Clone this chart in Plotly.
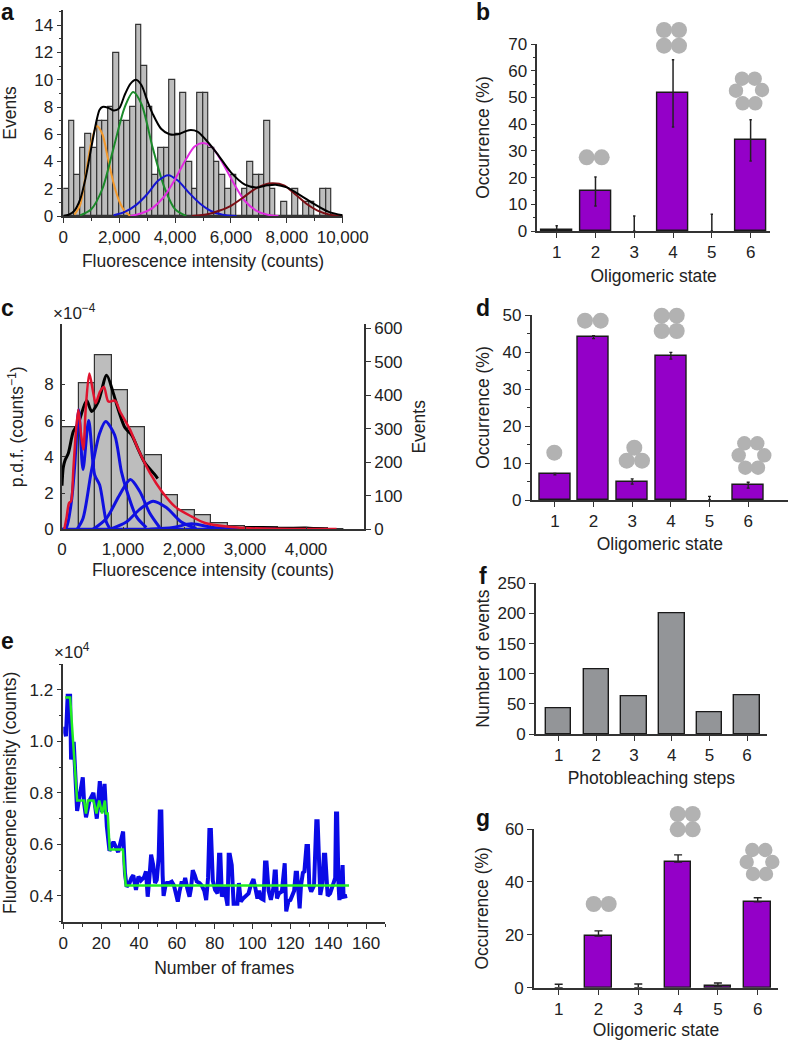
import plotly.graph_objects as go

W, H = 788, 1040
FONT = "Liberation Sans"
TXT = "#222222"
AX = "#333333"
PURPLE = "#9400C8"
GREY = "#BDBDBD"
ICON = "#B2B2B2"
TICK_SIZE = 17
TITLE_SIZE = 17.5

# ---------- panel a ----------
a_bins = [100 + 200 * i for i in range(50)]
a_counts = [2, 7, 3, 5, 6, 5, 7, 7, 8, 12, 7, 7, 8, 14, 11, 8, 3, 5, 5, 10, 6, 9, 4, 2, 9,
            9, 5, 4, 3, 2, 3, 0, 2, 4, 3, 3, 7, 2, 0, 1, 0, 2, 0, 1, 1, 0, 2, 2, 0, 0]
a_orange_x = [400, 600, 800, 1000, 1200, 1400, 1600, 1800, 2000, 2200, 2400]
a_orange_y = [0.1, 0.8, 3, 5.4, 6.6, 6.0, 4.2, 2.4, 1.1, 0.35, 0]
a_green_x = [600, 1000, 1400, 1800, 2200, 2500, 2800, 3200, 3600, 4000, 4400]
a_green_y = [0.05, 0.5, 2.0, 5, 8, 9.1, 8.2, 5, 2.2, 0.5, 0]
a_blue_x = [1800, 2200, 2600, 3000, 3400, 3760, 4100, 4500, 4900, 5300, 5700, 6200]
a_blue_y = [0.05, 0.3, 0.8, 1.6, 2.6, 3.0, 2.6, 1.7, 0.9, 0.35, 0.1, 0]
a_mag_x = [2400, 2800, 3200, 3600, 4000, 4400, 4700, 5000, 5300, 5700, 6100, 6500, 6900, 7300, 7700]
a_mag_y = [0, 0.2, 0.6, 1.4, 2.7, 4.2, 5.1, 5.35, 5.1, 3.9, 2.4, 1.1, 0.4, 0.1, 0]
a_red_x = [4600, 5200, 5600, 6000, 6400, 6800, 7200, 7500, 7900, 8300, 8700, 9100, 9500, 10000]
a_red_y = [0, 0.15, 0.4, 0.75, 1.3, 1.9, 2.3, 2.4, 2.25, 1.6, 0.9, 0.4, 0.12, 0]
a_black_x = [0, 200, 400, 600, 800, 1000, 1200, 1300, 1400, 1600, 1800, 2000, 2200, 2400, 2600, 2800,
             3000, 3200, 3500, 3800, 4100, 4500, 4800, 5100, 5500, 6000, 6500, 6900, 7300, 7600, 8000,
             8500, 9000, 9500, 10000]
a_black_y = [0, 0.1, 0.4, 1.2, 2.8, 5, 7.1, 7.8, 8, 7.95, 7.75, 7.9, 8.9, 9.7, 10, 9.6,
             8.5, 7.5, 6.4, 6.0, 6.0, 6.3, 6.2, 5.6, 4.6, 3.2, 2.3, 2.1, 2.25, 2.3, 2.1,
             1.5, 0.85, 0.3, 0.05]

# ---------- panel c ----------
c_bins = [136 + 272 * i for i in range(17)]
c_events = [304, 436, 520, 415, 304, 221, 102, 56, 43, 18, 8, 6, 6, 4, 4, 3, 1]
c_black_x = [0, 20, 49, 104, 186, 268, 404, 486, 596, 732, 842, 923, 1033, 1142, 1251, 1361, 1525, 1568]
c_black_y = [2.4, 3.4, 3.8, 4.2, 5.4, 5.85, 7.1, 6.5, 7.05, 8.5, 7.5, 6.6, 5.6, 5.2, 4.4, 3.65, 3.0, 2.8]
c_tail_x = [3000, 3300, 3600, 4000, 4300]
c_tail_y = [0.12, 0.13, 0.08, 0.1, 0.03]
c_red_x = [38, 77, 115, 148, 186, 224, 268, 311, 350, 388, 448, 514, 552, 623, 688, 760, 869, 951,
           1115, 1251, 1443, 1634, 1852, 2126, 2344, 2700, 3000, 3500, 4000, 4500]
c_red_y = [0, 0.7, 1.45, 1.55, 3.3, 5.2, 6.6, 5.3, 4.4, 6.6, 8.6, 7.5, 6.95, 7.6, 7.85, 7.05, 7.1, 6.5,
           5.5, 4.4, 3.1, 2.1, 1.25, 0.7, 0.35, 0.15, 0.07, 0.03, 0.02, 0.01]
c_b1_x = [16, 71, 153, 208, 273, 344, 437, 536, 617, 727, 781]
c_b1_y = [0, 0.1, 1.5, 3.5, 6.6, 3.3, 6.0, 3.0, 2.45, 0.4, 0.05]
c_b2_x = [246, 344, 481, 617, 716, 863, 973, 1055, 1219, 1383]
c_b2_y = [0, 0.6, 3.2, 5.3, 5.95, 5.2, 3.2, 2.2, 0.7, 0.1]
c_b3_x = [508, 727, 945, 1120, 1273, 1437, 1601]
c_b3_y = [0, 0.6, 1.9, 2.75, 2.1, 0.9, 0.1]
c_b4_x = [781, 1055, 1273, 1492, 1710, 1956, 2202]
c_b4_y = [0, 0.4, 1.1, 1.55, 1.2, 0.4, 0.05]
c_b5_x = [1437, 1820, 2120, 2475, 2803]
c_b5_y = [0, 0.1, 0.3, 0.1, 0]
c_b0_x = [0, 3500]
c_b0_y = [0, 0]

# ---------- panel e ----------
e_x = [0, 1.4, 2.3, 3.6, 4.1, 5.5, 7.3, 8.3, 9.3, 10.3, 11, 12, 13.8, 15.9, 17.7, 19.3, 20.4, 21.8, 23, 24.4,
       26.5, 27.5, 29, 31.6, 32.6, 33.5, 35, 36, 37, 38.4, 39.7, 41, 42.7, 43.7, 44.6, 45.5, 46.4, 47.5, 48.5,
       49.4, 50.4, 51, 51.8, 52.5, 53, 54, 54.7, 56, 57.3, 58.5, 59.5, 60.5, 61.5, 62.6, 63.5, 64.4, 65.5, 66.7,
       67.5, 68.4, 69.5, 70.5, 72, 73.2, 74.5, 75.5, 76.5, 77.2, 78, 79, 80.2, 81.5, 82.3, 83, 83.8, 85, 86.8,
       87.4, 88, 89, 90, 92, 92.8, 93.8, 95, 96.5, 97.9, 99, 100.5, 101.5, 102.6, 103.5, 104.5, 105.8, 106.6,
       107.4, 108.5, 109.7, 111, 111.7, 112.3, 112.9, 114, 115.5, 116.5, 117, 117.8, 119, 120, 122, 122.8, 123.5,
       124.9, 125.6, 126.6, 127.4, 128.5, 129.3, 130, 131, 132.5, 133.7, 134.4, 135.2, 135.8, 137, 137.7, 138.4,
       139.3, 139.7, 141, 142.9, 143.7, 144.1, 144.7, 145.4, 145.9, 146.7, 147.1, 147.6, 148.1, 150]
e_y = [1.057, 1.02, 1.177, 1.177, 0.93, 0.998, 0.73, 0.78, 0.82, 0.86, 0.76, 0.705, 0.77, 0.80, 0.70, 0.845,
       0.725, 0.835, 0.67, 0.575, 0.61, 0.59, 0.57, 0.65, 0.488, 0.436, 0.45, 0.47, 0.48, 0.423, 0.475, 0.46,
       0.473, 0.495, 0.397, 0.47, 0.56, 0.52, 0.45, 0.462, 0.55, 0.728, 0.728, 0.48, 0.40, 0.44, 0.45, 0.45,
       0.455, 0.44, 0.40, 0.378, 0.42, 0.456, 0.44, 0.47, 0.43, 0.397, 0.43, 0.50, 0.48, 0.456, 0.45, 0.44,
       0.42, 0.384, 0.47, 0.656, 0.656, 0.46, 0.423, 0.41, 0.56, 0.56, 0.397, 0.436, 0.362, 0.56, 0.56, 0.52,
       0.37, 0.37, 0.45, 0.378, 0.39, 0.40, 0.41, 0.44, 0.465, 0.43, 0.39, 0.42, 0.39, 0.385, 0.53, 0.53, 0.42,
       0.385, 0.43, 0.495, 0.495, 0.39, 0.41, 0.417, 0.527, 0.527, 0.34, 0.38, 0.384, 0.42, 0.49, 0.49, 0.352,
       0.44, 0.49, 0.495, 0.594, 0.594, 0.44, 0.417, 0.44, 0.69, 0.69, 0.43, 0.404, 0.45, 0.56, 0.56, 0.42, 0.40,
       0.41, 0.462, 0.47, 0.72, 0.72, 0.45, 0.384, 0.42, 0.52, 0.52, 0.397, 0.40]
e_fit_x = [1, 3.6, 7.3, 11, 12, 13, 16, 17.5, 19, 20.5, 22, 22.5, 23.5, 24.5, 31.5, 33, 151]
e_fit_y = [1.17, 1.17, 0.77, 0.77, 0.72, 0.77, 0.77, 0.72, 0.77, 0.72, 0.77, 0.72, 0.72, 0.58, 0.58, 0.44, 0.44]

# ---------- bar panels ----------
states = [1, 2, 3, 4, 5, 6]
b_vals = [0.3, 15, 0, 51.5, 0, 34]
b_err_up = [1.7, 5.2, 5.6, 12.6, 6.3, 7.6]
b_err_dn = [0.3, 5.6, 0, 12.6, 0, 7.8]
d_vals = [7, 44, 5, 39, 0, 4]
d_err_up = [0.2, 0.4, 0.7, 0.9, 1.0, 0.8]
d_err_dn = [0.2, 0.4, 0.7, 0.9, 0, 0.8]
f_vals = [42, 107, 63, 200, 36, 65]
g_vals = [0, 19.5, 0, 47.5, 0.6, 32.5]
g_err_up = [1.3, 2, 1.4, 2.7, 1.2, 1.5]
g_err_dn = [0, 0, 0, 0, 0, 0]

# icons: circle radius and centres in page pixels
ICONS = [
    (8.0, [(586.7, 157.3), (601.7, 157.3)]),
    (8.0, [(664, 30), (679, 30), (664, 45.7), (679, 45.7)]),
    (7.2, [(742, 78.7), (754.7, 78.7), (762, 90), (755.3, 103.3), (742.7, 103.3), (736, 90.7)]),
    (8.0, [(554.3, 452.7)]),
    (8.0, [(585, 320.7), (600.7, 320.7)]),
    (8.0, [(634.3, 447.7), (626.7, 460.7), (642, 460.7)]),
    (8.0, [(661.7, 315.7), (676.7, 315.7), (661.7, 331), (676.7, 331)]),
    (7.2, [(744.3, 443.3), (757.3, 443.3), (764.3, 455.3), (758, 467.7), (745.3, 467.7), (738.7, 455.3)]),
    (8.0, [(593.7, 904), (608.7, 904)]),
    (8.0, [(677.7, 814), (692.7, 814), (677.7, 829.3), (692.7, 829.3)]),
    (7.2, [(752.3, 850), (765.3, 850), (772.3, 862), (766, 874), (753, 874), (746.7, 862)]),
]
PANEL_LABELS = [("a", 7, 12), ("b", 483, 12.5), ("c", 8, 308), ("d", 483, 308), ("e", 8, 641),
                ("f", 483, 576), ("g", 483, 818)]


def px(x):
    return x / W


def py(y):
    return 1 - y / H


fig = go.Figure()
layout = dict(
    width=W, height=H, autosize=False, margin=dict(l=0, r=0, t=0, b=0),
    paper_bgcolor="white", plot_bgcolor="white", showlegend=False,
    font=dict(family=FONT, size=TICK_SIZE, color=TXT), bargap=0,
)


def axis(domain, rng, title=None, standoff=6, dtick=None, tick0=0, minor=None, ticks="outside",
         ticklen=5, fmt=None, **kw):
    d = dict(domain=domain, range=rng, showgrid=False, zeroline=False, showline=True,
             linecolor=AX, linewidth=1.6, ticks=ticks, ticklen=ticklen, tickwidth=1.4, tickcolor=AX,
             tickfont=dict(family=FONT, size=TICK_SIZE, color=TXT), automargin=False, tick0=tick0)
    if dtick is not None:
        d["dtick"] = dtick
    if fmt:
        d["tickformat"] = fmt
    if minor:
        d["minor"] = dict(dtick=minor, tick0=tick0, ticks=ticks, ticklen=3, tickwidth=1.2, tickcolor=AX,
                          showgrid=False)
    if title:
        d["title"] = dict(text=title, standoff=standoff, font=dict(family=FONT, size=TITLE_SIZE, color=TXT))
    d.update(kw)
    return d


def line(x, y, color, width, xa, ya, shape="spline"):
    fig.add_trace(go.Scatter(x=x, y=y, mode="lines", xaxis=xa, yaxis=ya, cliponaxis=False,
                             line=dict(color=color, width=width, shape=shape, smoothing=0.8)))


def bar_line(vals):
    return dict(color="#1a1a1a", width=[1.4 if v > 0 else 0 for v in vals])


# panel a
layout["xaxis"] = axis([px(63.3), px(342.7)], [0, 10000], "Fluorescence intensity (counts)", 9, 2000, minor=1000,
                       fmt=",d", anchor="y")
layout["yaxis"] = axis([py(216), py(10)], [0, 15.12], "Events", 13, 2, minor=1, anchor="x")
fig.add_trace(go.Bar(x=a_bins, y=a_counts, width=200, marker=dict(color=GREY, line=dict(color=AX, width=1.2)),
                     xaxis="x", yaxis="y"))
line(a_orange_x, a_orange_y, "#F39A2D", 2, "x", "y")
line(a_green_x, a_green_y, "#1B8A2A", 2, "x", "y")
line(a_blue_x, a_blue_y, "#1414D2", 2, "x", "y")
line(a_mag_x, a_mag_y, "#E02BE0", 2, "x", "y")
line(a_red_x, a_red_y, "#7A0E14", 2, "x", "y")
line(a_black_x, a_black_y, "#000000", 2, "x", "y")

# panel b
layout["xaxis2"] = axis([px(537.3), px(770)], [0.5, 6.5], "Oligomeric state", 9, 1, tick0=1, anchor="y2")
layout["yaxis2"] = axis([py(231), py(44)], [0, 70], "Occurrence (%)", 14, 10, minor=5, anchor="x2")
fig.add_trace(go.Bar(x=states, y=b_vals, width=0.8, xaxis="x2", yaxis="y2",
                     marker=dict(color=PURPLE, line=bar_line(b_vals)),
                     error_y=dict(type="data", symmetric=False, array=b_err_up, arrayminus=b_err_dn,
                                  color="#222222", thickness=1.5, width=1.2)))

# panel c: bars on the right axis, curves on the left axis drawn over them
layout["xaxis3"] = axis([px(62), px(364)], [0, 4950], "Fluorescence intensity (counts)", 6,
                        1000, ticks="inside", ticklen=3, anchor="y3", tickvals=[0, 1000, 2000, 3000, 4000],
                        ticktext=["0", "1,000", "2,000", "3,000", "4,000"], ticklabelstandoff=3)
layout["yaxis3"] = axis([py(529.3), py(324.3)], [0, 612], "Events", 11, 100, side="right", anchor="x3")
layout["yaxis4"] = axis([py(529.3), py(324.3)], [0, 11.31], "p.d.f. (counts<sup>−1</sup>)", 16, 2, side="left",
                        anchor="x3", overlaying="y3", ticks="inside", ticklen=3,
                        tickvals=[0, 2, 4, 6, 8], ticklabelstandoff=3)
fig.add_trace(go.Bar(x=c_bins, y=c_events, width=272, xaxis="x3", yaxis="y3",
                     marker=dict(color=GREY, line=dict(color=AX, width=1.2))))
line(c_black_x, c_black_y, "#000000", 3, "x3", "y4")
line(c_tail_x, c_tail_y, "#000000", 2, "x3", "y4")
line(c_b0_x, c_b0_y, "#1010E0", 3, "x3", "y4", "linear")
line(c_b1_x, c_b1_y, "#1010E0", 3, "x3", "y4")
line(c_b2_x, c_b2_y, "#1010E0", 3, "x3", "y4")
line(c_b3_x, c_b3_y, "#1010E0", 3, "x3", "y4")
line(c_b4_x, c_b4_y, "#1010E0", 3, "x3", "y4")
line(c_b5_x, c_b5_y, "#1010E0", 3, "x3", "y4")
line(c_red_x, c_red_y, "#E0132E", 2.5, "x3", "y4")

# panel d
layout["xaxis4"] = axis([px(531.7), px(788)], [0.4, 7.03], "Oligomeric state", 8, 1, anchor="y5", tick0=1,
                        tickvals=states)
layout["yaxis5"] = axis([py(500), py(315)], [0, 50], "Occurrence (%)", 8, 10, minor=5, anchor="x4")
fig.add_trace(go.Bar(x=states, y=d_vals, width=0.8, xaxis="x4", yaxis="y5",
                     marker=dict(color=PURPLE, line=bar_line(d_vals)),
                     error_y=dict(type="data", symmetric=False, array=d_err_up, arrayminus=d_err_dn,
                                  color="#222222", thickness=1.3, width=1.5)))

# panel e
layout["xaxis5"] = axis([px(63.3), px(385)], [0, 170], "Number of frames", 10, 20, minor=10, anchor="y6",
                        tickvals=list(range(0, 161, 20)))
layout["yaxis6"] = axis([py(921.7), py(664)], [0.3, 1.3], "Fluorescence intensity (counts)", 9, 0.2, tick0=0.4,
                        minor=0.1, fmt=".1f", anchor="x5", tickvals=[0.4, 0.6, 0.8, 1.0, 1.2])
line(e_x, e_y, "#0A0AE6", 4, "x5", "y6", "linear")
line(e_fit_x, e_fit_y, "#22EE22", 2.5, "x5", "y6", "linear")

# panel f
layout["xaxis6"] = axis([px(536), px(766.7)], [0.4, 6.52], "Photobleaching steps", 8, 1, tick0=1, anchor="y7")
layout["yaxis7"] = axis([py(734), py(583.3)], [0, 250], "Number of events", 3, 50, anchor="x6")
fig.add_trace(go.Bar(x=states, y=f_vals, width=0.68, xaxis="x6", yaxis="y7",
                     marker=dict(color="#939598", line=bar_line(f_vals))))

# panel g
layout["xaxis7"] = axis([px(534), px(778)], [0.38, 6.51], "Oligomeric state", 8, 1, tick0=1, anchor="y8")
layout["yaxis8"] = axis([py(987.7), py(829)], [0, 60], "Occurrence (%)", 12, 20, anchor="x7")
fig.add_trace(go.Bar(x=states, y=g_vals, width=0.67, xaxis="x7", yaxis="y8",
                     marker=dict(color=PURPLE, line=bar_line(g_vals)),
                     error_y=dict(type="data", symmetric=False, array=g_err_up, arrayminus=g_err_dn,
                                  color="#222222", thickness=1.4, width=4)))

shapes = []
for r, centres in ICONS:
    for cx, cy in centres:
        shapes.append(dict(type="circle", xref="paper", yref="paper", layer="above",
                           x0=px(cx - r), x1=px(cx + r), y0=py(cy + r), y1=py(cy - r),
                           fillcolor=ICON, line=dict(width=0)))
layout["shapes"] = shapes

ann = []
for t, x, y in PANEL_LABELS:
    ann.append(dict(text=t, x=px(x), y=py(y), xref="paper", yref="paper", showarrow=False,
                    xanchor="center", yanchor="middle", font=dict(family=FONT, size=23, color="#111111", weight=700)))
ann.append(dict(text="×10<sup>−4</sup>", x=px(74), y=py(312), xref="paper", yref="paper", showarrow=False,
                xanchor="center", yanchor="middle", font=dict(family=FONT, size=17, color=TXT)))
ann.append(dict(text="×10<sup>4</sup>", x=px(72), y=py(651), xref="paper", yref="paper", showarrow=False,
                xanchor="center", yanchor="middle", font=dict(family=FONT, size=17, color=TXT)))
layout["annotations"] = ann

fig.update_layout(**layout)
assert len(e_x) == len(e_y)
fig.write_html("out.html", config={"displayModeBar": False},
               post_script="document.body.style.margin='0';document.documentElement.style.overflow='hidden';")
